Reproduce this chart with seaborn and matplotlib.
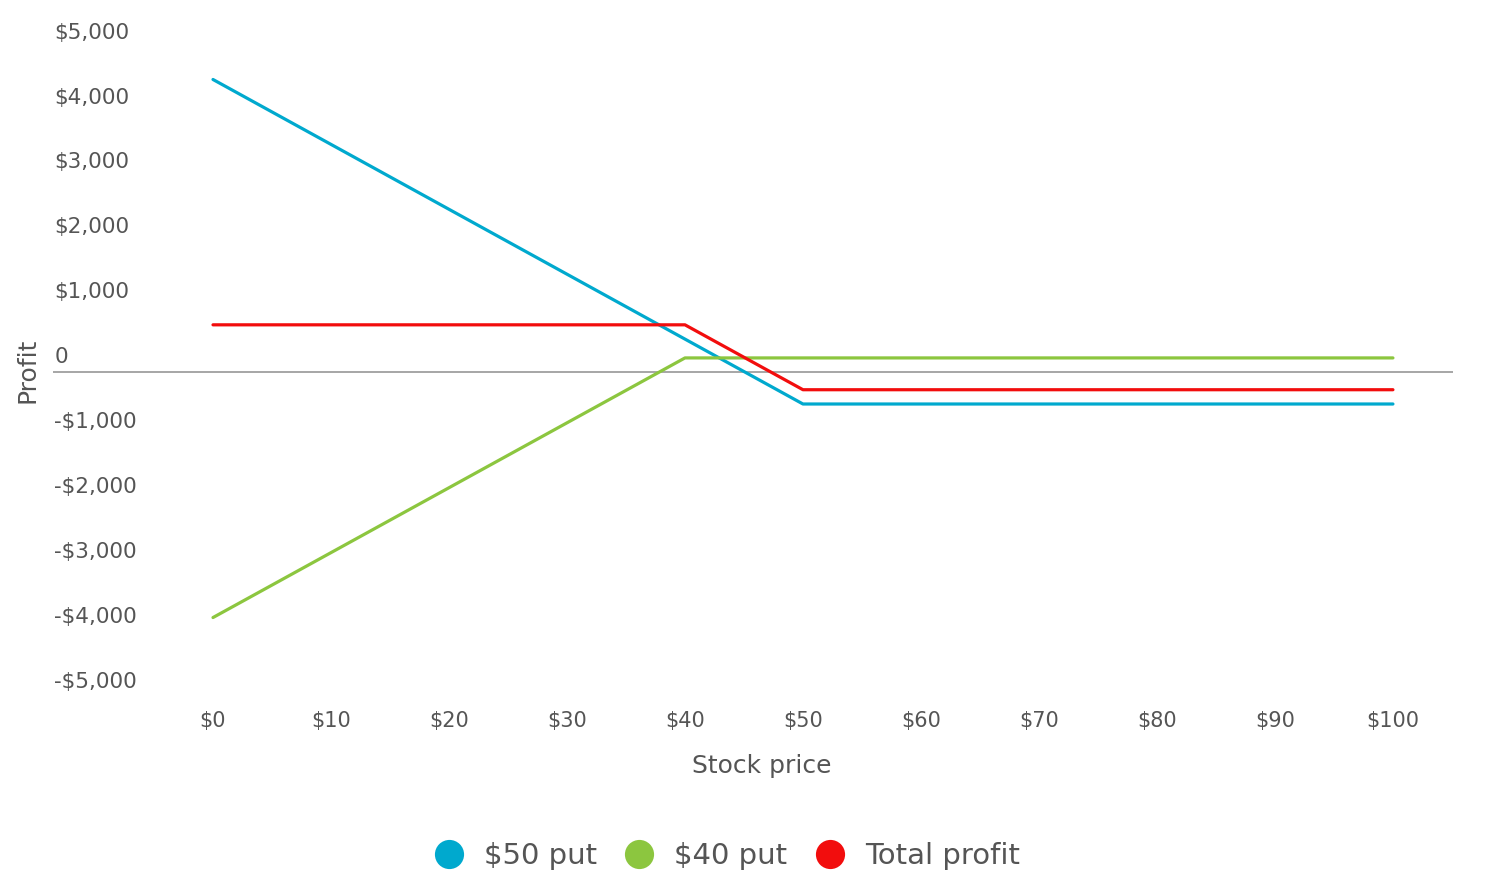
import matplotlib
matplotlib.use("Agg")
import matplotlib.pyplot as plt
import matplotlib.transforms as mtransforms
from matplotlib.lines import Line2D
import pandas as pd
import seaborn as sns

# ---- data ----
prices = [0, 10, 20, 30, 40, 50, 60, 70, 80, 90, 100]
put_50 = [4510, 3510, 2510, 1510, 510, -490, -490, -490, -490, -490, -490]
put_40 = [-3780, -2780, -1780, -780, 220, 220, 220, 220, 220, 220, 220]
total_profit = [730, 730, 730, 730, 730, -270, -270, -270, -270, -270, -270]
series_names = ["$50 put", "$40 put", "Total profit"]
series_colors = ["#00A9CE", "#8CC63F", "#F20D0D"]
y_ticks = [5000, 4000, 3000, 2000, 1000, 0, -1000, -2000, -3000, -4000, -5000]
y_tick_labels = ["$5,000", "$4,000", "$3,000", "$2,000", "$1,000", "0",
                 "-$1,000", "-$2,000", "-$3,000", "-$4,000", "-$5,000"]
x_tick_labels = ["$0", "$10", "$20", "$30", "$40", "$50", "$60", "$70", "$80", "$90", "$100"]

TEXT = "#555555"

sns.set_theme(style="white")
plt.rcParams["font.family"] = ["DejaVu Sans"]

df = pd.DataFrame({
    "price": prices * 3,
    "profit": put_50 + put_40 + total_profit,
    "series": [series_names[0]] * len(prices) + [series_names[1]] * len(prices)
              + [series_names[2]] * len(prices),
})

fig = plt.figure(figsize=(15, 8.93), dpi=100)
ax = fig.add_axes([0.03533, 0.2198, 0.9331, 0.7268])

ax.axhline(0, color="#A6A6A6", lw=1.4, zorder=1)
sns.lineplot(data=df, x="price", y="profit", hue="series", hue_order=series_names,
             palette=dict(zip(series_names, series_colors)), linewidth=2.3,
             ax=ax, legend=False, sort=False, zorder=3)

ax.set_xlim(-13.56, 105.06)
ax.set_ylim(-5000, 5000)
for s in ax.spines.values():
    s.set_visible(False)
ax.grid(False)

ax.set_xticks(prices)
ax.set_xticklabels(x_tick_labels, fontsize=15, color=TEXT)
ax.tick_params(axis="x", length=0, pad=10.5)

ax.set_yticks(y_ticks)
ax.set_yticklabels([])
ax.tick_params(axis="y", length=0, pad=0)
offset = mtransforms.ScaledTranslation(0, 9 / 100, fig.dpi_scale_trans)
for v, lab in zip(y_ticks, y_tick_labels):
    ax.text(0.001, v, lab, transform=ax.get_yaxis_transform() + offset,
            ha="left", va="baseline", fontsize=15.5, color=TEXT)

ax.set_xlabel("Stock price", fontsize=18, color=TEXT, va="center")
ax.xaxis.set_label_coords(0.5065, -0.1068)
ax.set_ylabel("Profit", fontsize=18, color=TEXT, va="center")
ax.yaxis.set_label_coords(-0.018, 0.503)

handles = [Line2D([], [], marker="o", linestyle="", markersize=21, color=c,
                  markeredgewidth=0) for c in series_colors]
fig.legend(handles, series_names, loc="center", bbox_to_anchor=(0.4847, 0.0414),
           ncol=3, frameon=False, fontsize=21, labelcolor=TEXT,
           handlelength=1.0, handletextpad=0.7, columnspacing=0.95)

fig.savefig("out.png", dpi=100)
